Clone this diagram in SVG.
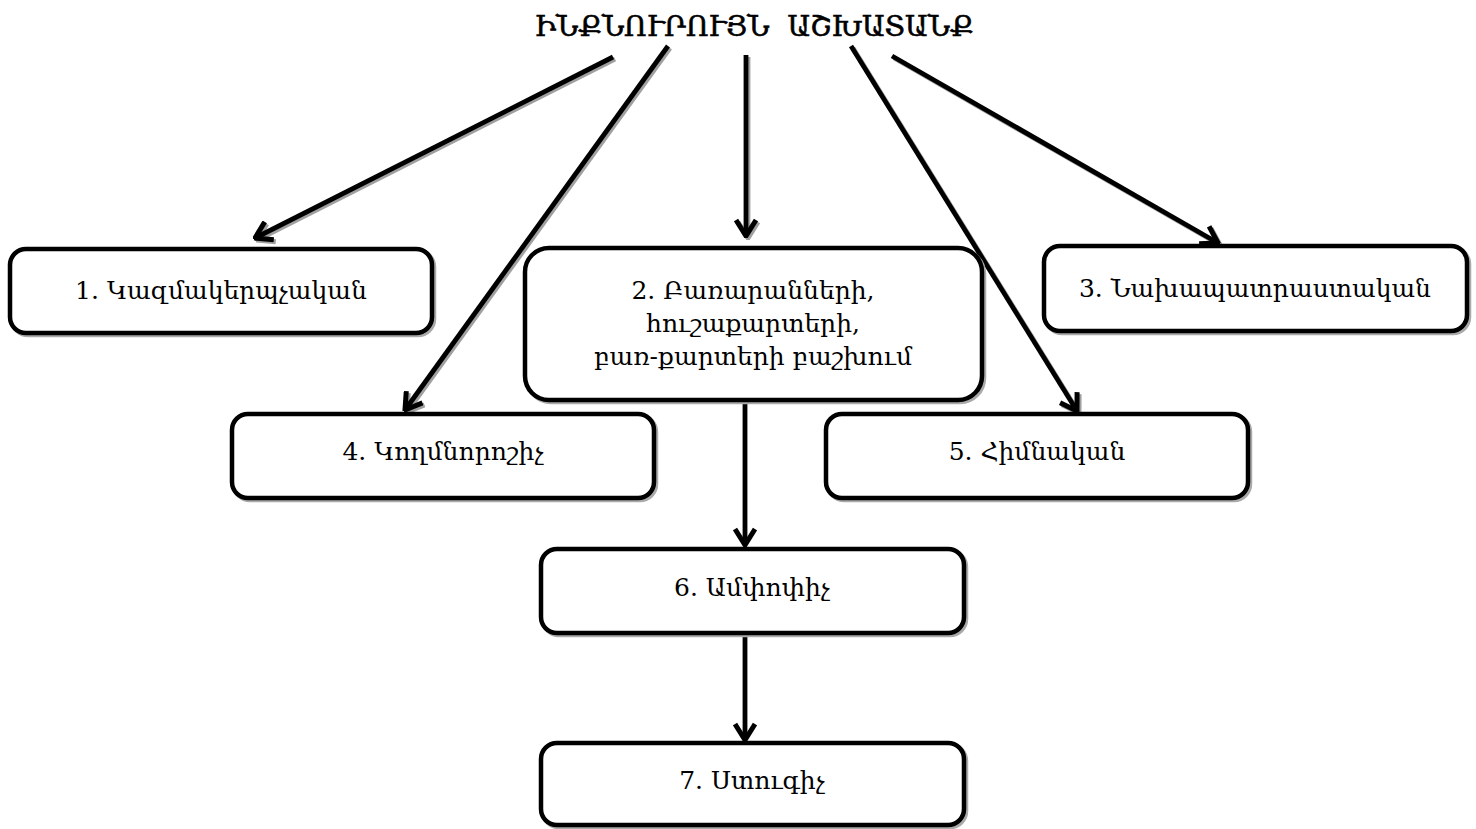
<svg xmlns="http://www.w3.org/2000/svg" width="1476" height="829" viewBox="0 0 1476 829">
<defs>
<style>
.box{fill:#fff;stroke:#000;stroke-width:4.5}
.bsh{fill:none;stroke:#aaa;stroke-width:4.5}
.lbl{font-family:"DejaVu Serif","Noto Serif",serif;font-size:25px;fill:#000;text-anchor:middle}
.ttl{font-family:"DejaVu Serif","Noto Serif",serif;font-size:28px;fill:#000;stroke:#000;stroke-width:0.6;text-anchor:middle;white-space:pre}
.ln{stroke:#000;stroke-width:4.8;fill:none;stroke-linecap:butt}
.sh{stroke:#a0a0a0;stroke-width:4.8;fill:none}
</style>
<marker id="ah" viewBox="-18 -12 20 24" markerWidth="20" markerHeight="24" refX="0" refY="0" orient="auto" markerUnits="userSpaceOnUse">
<path d="M-16,-10 L0,0 L-16,10" fill="none" stroke="#000" stroke-width="5" stroke-linejoin="miter"/>
</marker>
<marker id="ahs" viewBox="-18 -12 20 24" markerWidth="20" markerHeight="24" refX="0" refY="0" orient="auto" markerUnits="userSpaceOnUse">
<path d="M-16,-10 L0,0 L-16,10" fill="none" stroke="#a0a0a0" stroke-width="5"/>
</marker>
</defs>
<rect width="1476" height="829" fill="#fff"/>
<text class="ttl" x="754" y="36" xml:space="preserve">ԻՆՔՆՈՒՐՈՒՅՆ  ԱՇԽԱՏԱՆՔ</text>
<g id="connectors">
<g transform="translate(2,2)">
<line class="sh" x1="613" y1="57" x2="255" y2="238" marker-end="url(#ahs)"/>
<line class="sh" x1="668" y1="46" x2="405" y2="410" marker-end="url(#ahs)"/>
<line class="sh" x1="746" y1="55" x2="746" y2="236" marker-end="url(#ahs)"/>
<line class="sh" x1="851" y1="46" x2="1077" y2="411" marker-end="url(#ahs)"/>
<line class="sh" x1="892" y1="56" x2="1218" y2="243" marker-end="url(#ahs)"/>
</g>
<line class="ln" x1="613" y1="57" x2="255" y2="238" marker-end="url(#ah)"/>
<line class="ln" x1="668" y1="46" x2="405" y2="410" marker-end="url(#ah)"/>
<line class="ln" x1="746" y1="55" x2="746" y2="236" marker-end="url(#ah)"/>
<line class="ln" x1="851" y1="46" x2="1077" y2="411" marker-end="url(#ah)"/>
<line class="ln" x1="892" y1="56" x2="1218" y2="243" marker-end="url(#ah)"/>
<line class="ln" x1="745" y1="401" x2="745" y2="545" marker-end="url(#ah)"/>
<line class="ln" x1="745" y1="634" x2="745" y2="740" marker-end="url(#ah)"/>
</g>
<g id="n1">
<rect class="bsh" x="12" y="251" width="422" height="84" rx="16"/>
<rect class="box" x="10" y="249" width="422" height="84" rx="16"/>
<text class="lbl" x="221" y="299">1. Կազմակերպչական</text>
</g>
<g id="n2">
<rect class="bsh" x="527" y="250" width="457" height="152" rx="24"/>
<rect class="box" x="525" y="248" width="457" height="152" rx="24"/>
<text class="lbl" x="753" y="299">2. Բառարանների,</text>
<text class="lbl" x="753" y="332">հուշաքարտերի,</text>
<text class="lbl" x="753" y="365">բառ-քարտերի բաշխում</text>
</g>
<g id="n3">
<rect class="bsh" x="1046" y="248" width="423" height="85" rx="16"/>
<rect class="box" x="1044" y="246" width="423" height="85" rx="16"/>
<text class="lbl" x="1255" y="297">3. Նախապատրաստական</text>
</g>
<g id="n4">
<rect class="bsh" x="234" y="416" width="422" height="84" rx="16"/>
<rect class="box" x="232" y="414" width="422" height="84" rx="16"/>
<text class="lbl" x="443" y="460">4. Կողմնորոշիչ</text>
</g>
<g id="n5">
<rect class="bsh" x="828" y="416" width="422" height="84" rx="16"/>
<rect class="box" x="826" y="414" width="422" height="84" rx="16"/>
<text class="lbl" x="1037" y="460">5. Հիմնական</text>
</g>
<g id="n6">
<rect class="bsh" x="543" y="551" width="423" height="84" rx="16"/>
<rect class="box" x="541" y="549" width="423" height="84" rx="16"/>
<text class="lbl" x="752" y="596">6. Ամփոփիչ</text>
</g>
<g id="n7">
<rect class="bsh" x="543" y="745" width="423" height="82" rx="16"/>
<rect class="box" x="541" y="743" width="423" height="82" rx="16"/>
<text class="lbl" x="752" y="789">7. Ստուգիչ</text>
</g>
</svg>
